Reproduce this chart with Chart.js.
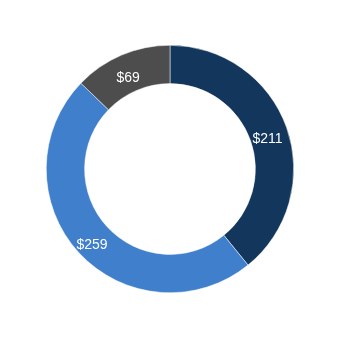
<!DOCTYPE html>
<html>
<head>
<meta charset="utf-8">
<script src="https://cdn.jsdelivr.net/npm/chart.js@4"></script>
<style>
  html, body { margin: 0; padding: 0; background: #fff; }
  #wrap { width: 340px; height: 340px; }
</style>
</head>
<body>
<div id="wrap"><canvas id="donut"></canvas></div>
<script>
const categories = ['A', 'B', 'C'];
const amounts = [211, 259, 69];
const sliceColors = ['#13365c', '#407fcc', '#4d4d4d'];

// draws the "$value" text in the middle of each ring segment
const sliceLabels = {
  id: 'sliceLabels',
  afterDatasetsDraw(chart) {
    const ctx = chart.ctx;
    const meta = chart.getDatasetMeta(0);
    ctx.save();
    ctx.fillStyle = '#ffffff';
    ctx.font = '14px "Liberation Sans", Arial, sans-serif';
    ctx.textAlign = 'center';
    ctx.textBaseline = 'middle';
    meta.data.forEach((arc, i) => {
      const p = arc.tooltipPosition();
      ctx.fillText('$' + amounts[i], p.x - 1, p.y + 5);
    });
    ctx.restore();
  }
};

new Chart(document.getElementById('donut'), {
  type: 'doughnut',
  data: {
    labels: categories,
    datasets: [{
      data: amounts,
      backgroundColor: sliceColors,
      borderColor: '#ffffff',
      borderWidth: 0.5,
    }],
  },
  options: {
    responsive: true,
    maintainAspectRatio: false,
    animation: false,
    cutout: '69%',
    layout: { padding: { top: 45, bottom: 47, left: 46, right: 46 } },
    plugins: {
      legend: { display: false },
      tooltip: { enabled: false },
    },
  },
  plugins: [sliceLabels],
});
</script>
</body>
</html>
